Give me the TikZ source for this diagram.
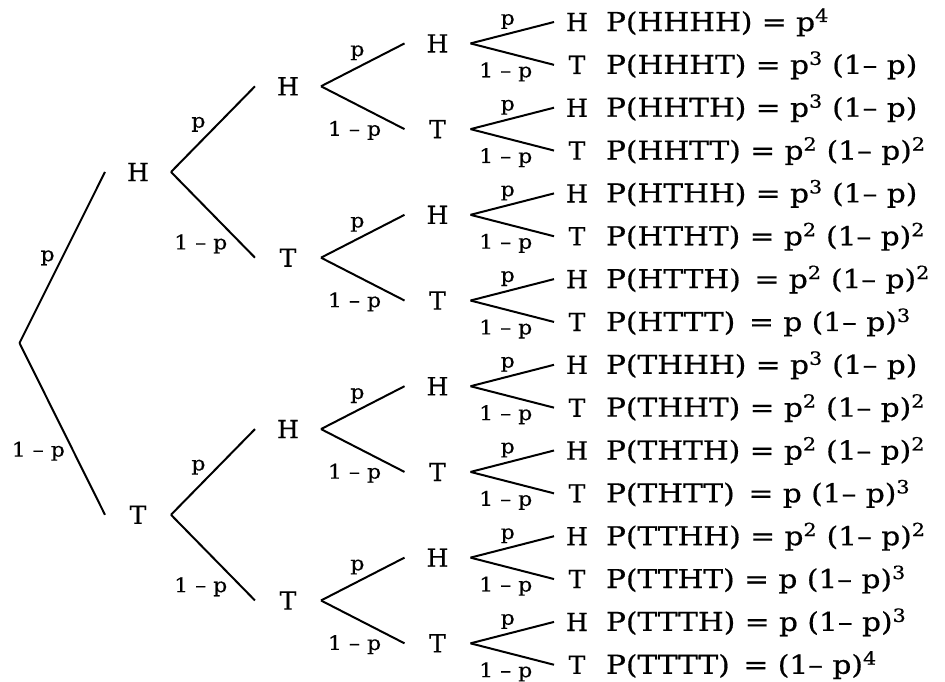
\documentclass[tikz,border=0pt]{standalone}
\usepackage{fontspec}
\setmainfont[FakeBold=0.3]{DejaVu Serif}
\newfontfamily\formfont[FakeStretch=1.14,FakeBold=0.6]{DejaVu Serif}
\newfontfamily\probfont[FakeStretch=1.1,FakeBold=0.3]{DejaVu Serif}
\usepackage{tikz}

\begin{document}
\begin{tikzpicture}[x=1pt,y=-1pt,line width=2pt,
  coin/.style={font=\fontsize{25}{25}\selectfont,inner sep=0pt},
  prob/.style={font=\probfont\fontsize{20}{20}\selectfont,inner sep=1.5pt},
  formula/.style={font=\formfont\fontsize{26}{26}\selectfont,anchor=base west,inner sep=0pt}]
  \path[use as bounding box] (0,0) rectangle (945,681);
  \node[inner sep=0pt] (n0-0) at (18,343) {};
  % tosses 1 to 4: x of the letters, width kept free round them, where the labels sit
  \foreach \k/\n/\x/\w/\pu/\pl in {1/2/138/64/.44/.56,2/4/288/64/.44/.70,3/8/437.5/64/.55/.75,4/16/577/44/.56/.77}{
    \pgfmathtruncatemacro\last{\n-1}
    \pgfmathtruncatemacro\km{\k-1}
    \pgfmathsetmacro\gap{42.85*2^(4-\k)}
    \foreach \i in {0,...,\last}{
      \pgfmathsetmacro\yy{22+\gap*\i+(\gap-42.85)/2}
      \pgfmathtruncatemacro\up{floor(\i/2)}
      \node[coin,minimum width=\w pt] (n\k-\i) at (\x,\yy) {\ifodd\i T\else H\fi};
      \ifodd\i
        \draw (n\km-\up.east) -- node[prob,below left,pos=\pl]{1 – p} (n\k-\i.west);
      \else
        \draw (n\km-\up.east) -- node[prob,above left,pos=\pu]{p} (n\k-\i.west);
      \fi
    }
  }
  \foreach \j/\s/\v in {0/HHHH/{= p\textsuperscript{4}},1/HHHT/{= p\textsuperscript{3} (1– p)},
    2/HHTH/{= p\textsuperscript{3} (1– p)},3/HHTT/{= p\textsuperscript{2} (1– p)\textsuperscript{2}},
    4/HTHH/{= p\textsuperscript{3} (1– p)},5/HTHT/{= p\textsuperscript{2} (1– p)\textsuperscript{2}},
    6/HTTH/{\,= p\textsuperscript{2} (1– p)\textsuperscript{2}},7/HTTT/{\,= p (1– p)\textsuperscript{3}},
    8/THHH/{= p\textsuperscript{3} (1– p)},9/THHT/{= p\textsuperscript{2} (1– p)\textsuperscript{2}},
    10/THTH/{= p\textsuperscript{2} (1– p)\textsuperscript{2}},11/THTT/{\,= p (1– p)\textsuperscript{3}},
    12/TTHH/{= p\textsuperscript{2} (1– p)\textsuperscript{2}},13/TTHT/{= p (1– p)\textsuperscript{3}},
    14/TTTH/{= p (1– p)\textsuperscript{3}},15/TTTT/{\,= (1– p)\textsuperscript{4}}}{
    \node[formula] (f\j) at (605,31+42.85*\j) {P(\s) \v};
  }
\end{tikzpicture}
\end{document}
